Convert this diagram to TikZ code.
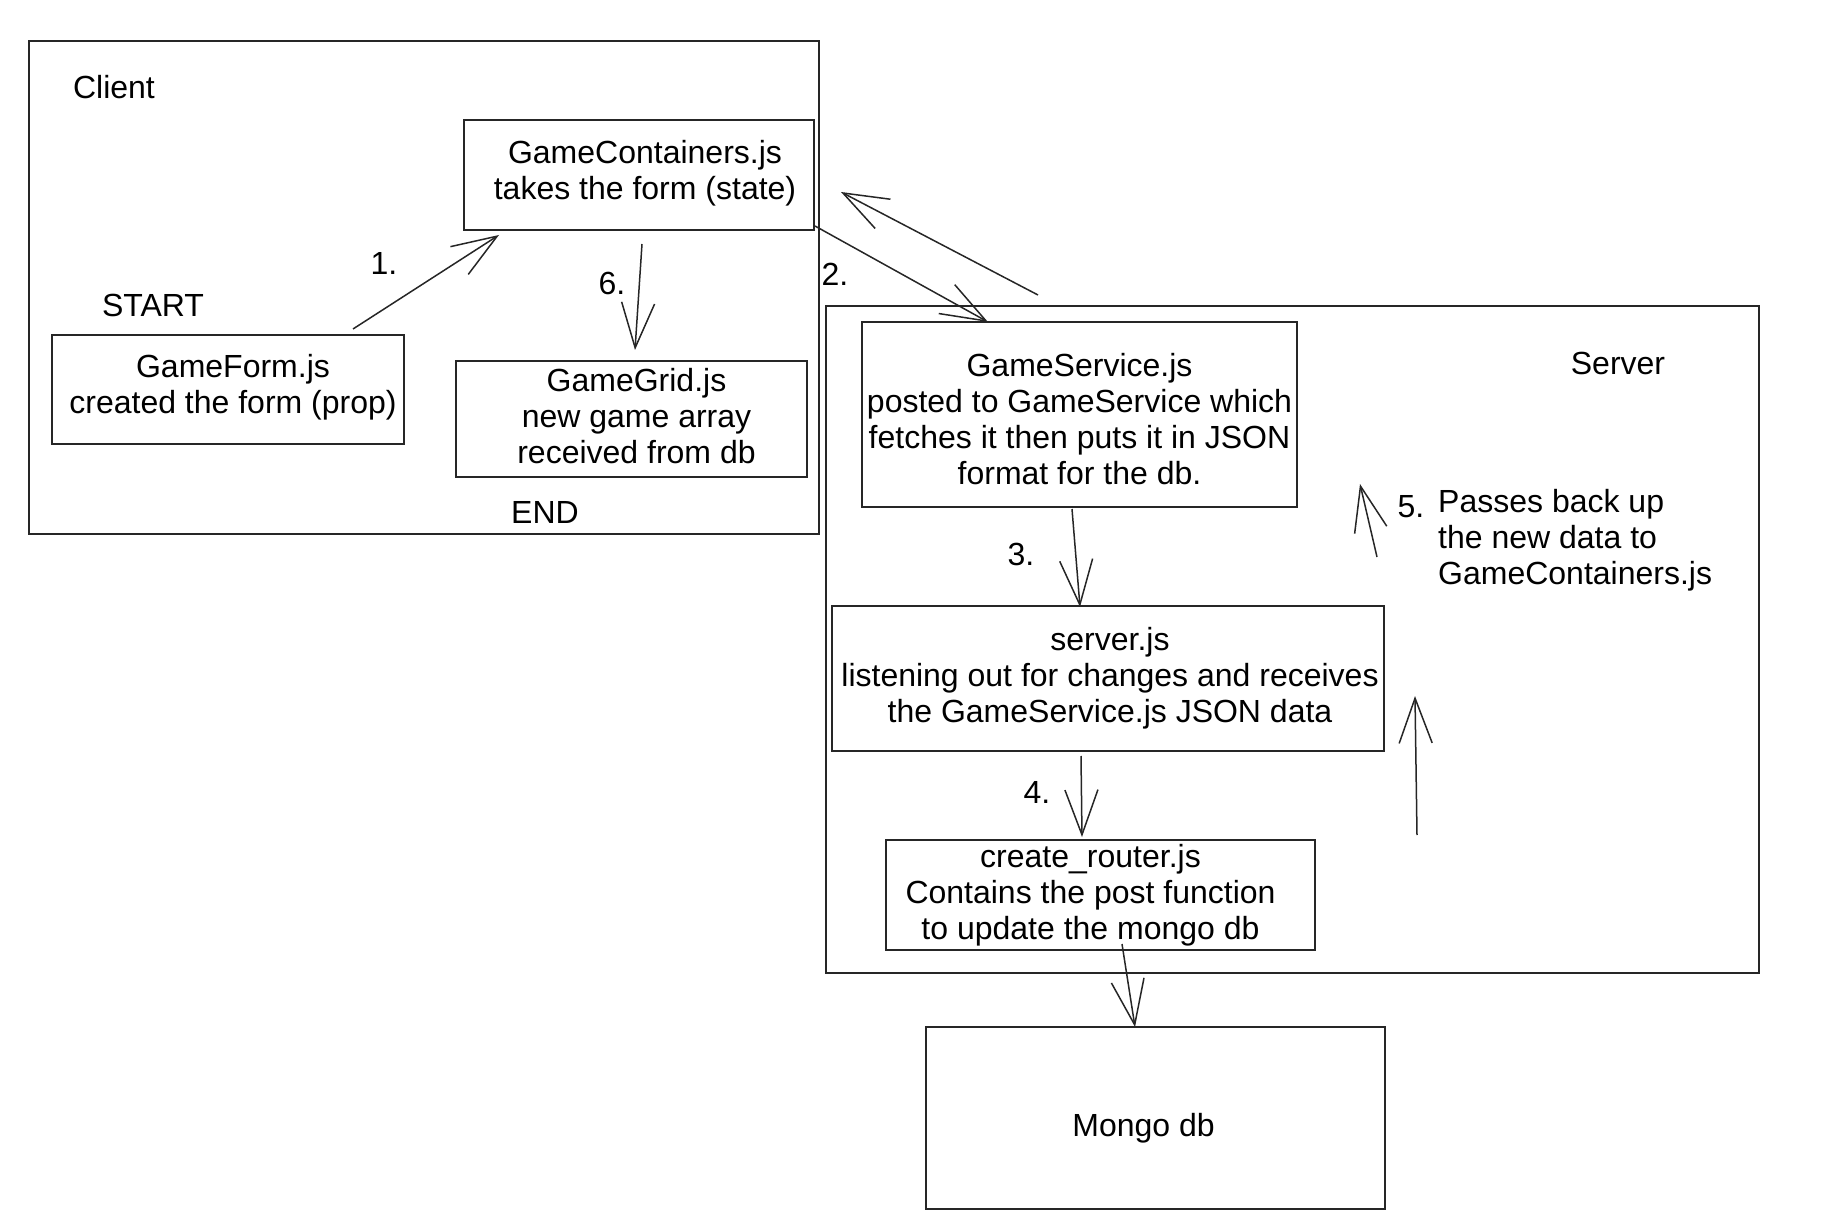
\documentclass[tikz,border=0pt]{standalone}
\usepackage{fontspec}
\setmainfont{Liberation Sans}
\usetikzlibrary{arrows.meta}
\tikzset{
  box/.style={draw=black!85, line width=1.5pt, rectangle, inner sep=0pt},
  lbl/.style={inner sep=0pt, align=center},
  txt/.style={inner sep=0pt},
  flow/.style={draw=black!85, line width=1.5pt, -{Straight Barb[length=45pt,width=33pt]}}
}
\begin{document}
\begin{tikzpicture}[x=1pt,y=-1pt, font=\fontsize{32}{36}\selectfont]
\useasboundingbox (0,0) rectangle (1824,1230);
% containers
\node[box, minimum width=790pt, minimum height=493pt] (client) at (424,287.5) {};
\node[box, minimum width=933pt, minimum height=667pt] (server) at (1292.5,639.5) {};
\node[txt] (clientlbl) at (114,87) {Client};
\node[txt] (serverlbl) at (1618,363) {Server};
% client boxes
\node[box, minimum width=350pt, minimum height=110pt,
  label={[lbl, xshift=6pt, yshift=1.5pt]center:{GameContainers.js\\takes the form (state)}}] (gc) at (639,175) {};
\node[box, minimum width=352pt, minimum height=109pt,
  label={[lbl, xshift=5pt, yshift=2pt]center:{GameForm.js\\created the form (prop)}}] (gf) at (228,389.5) {};
\node[box, minimum width=351pt, minimum height=116pt,
  label={[lbl, xshift=5pt, yshift=3pt]center:{GameGrid.js\\new game array\\received from db}}] (gg) at (631.5,419) {};
\node[txt] (start) at (153,305) {START};
\node[txt] (endlbl) at (545,512) {END};
\node[txt] (l1) at (384,263) {1.};
\node[txt] (l6) at (612,283) {6.};
\node[txt] (l2) at (835,274) {2.};
% server boxes
\node[box, minimum width=435pt, minimum height=185pt,
  label={[lbl, yshift=-5pt]center:{GameService.js\\posted to GameService which\\fetches it then puts it in JSON\\format for the db.}}] (gs) at (1079.5,414.5) {};
\node[box, minimum width=552pt, minimum height=145pt,
  label={[lbl, xshift=2pt]center:{server.js\\listening out for changes and receives\\the GameService.js JSON data}}] (sj) at (1108,678.5) {};
\node[box, minimum width=429pt, minimum height=110pt,
  label={[lbl, xshift=-10pt]center:{create\_router.js\\Contains the post function\\to update the mongo db}}] (cr) at (1100.5,895) {};
\node[box, minimum width=459pt, minimum height=182pt,
  label={[lbl, xshift=-12pt, yshift=-10pt]center:{Mongo db}}] (mongo) at (1155.5,1118) {};
\node[txt] (l3) at (1021,554) {3.};
\node[txt] (l4) at (1037,792) {4.};
\node[txt] (l5) at (1411,507) {5.};
\node[txt, anchor=west, align=left] (passes) at (1438,540) {Passes back up\\the new data to\\GameContainers.js};
% connector end points
\coordinate (a1s) at (353,329);
\coordinate (a1e) at (499,235);
\coordinate (a6s) at (642,244);
\coordinate (a6e) at (635,350);
\coordinate (a2s) at (815,226);
\coordinate (a2e) at (988,322);
\coordinate (abs) at (1038,295);
\coordinate (abe) at (841,192);
\coordinate (a3s) at (1072,509);
\coordinate (a3e) at (1080,607);
\coordinate (a4s) at (1081,756);
\coordinate (a4e) at (1082,837);
\coordinate (ams) at (1122,944);
\coordinate (ame) at (1135,1027);
\coordinate (aus) at (1417,835);
\coordinate (aue) at (1415,696);
\coordinate (a5s) at (1377,557);
\coordinate (a5e) at (1360,484);
% connectors
\draw[flow] (a1s) -- (a1e);
\draw[flow] (a6s) -- (a6e);
\draw[flow] (a2s) -- (a2e);
\draw[flow] (abs) -- (abe);
\draw[flow] (a3s) -- (a3e);
\draw[flow] (a4s) -- (a4e);
\draw[flow] (ams) -- (ame);
\draw[flow] (aus) -- (aue);
\draw[flow] (a5s) -- (a5e);
\end{tikzpicture}
\end{document}
